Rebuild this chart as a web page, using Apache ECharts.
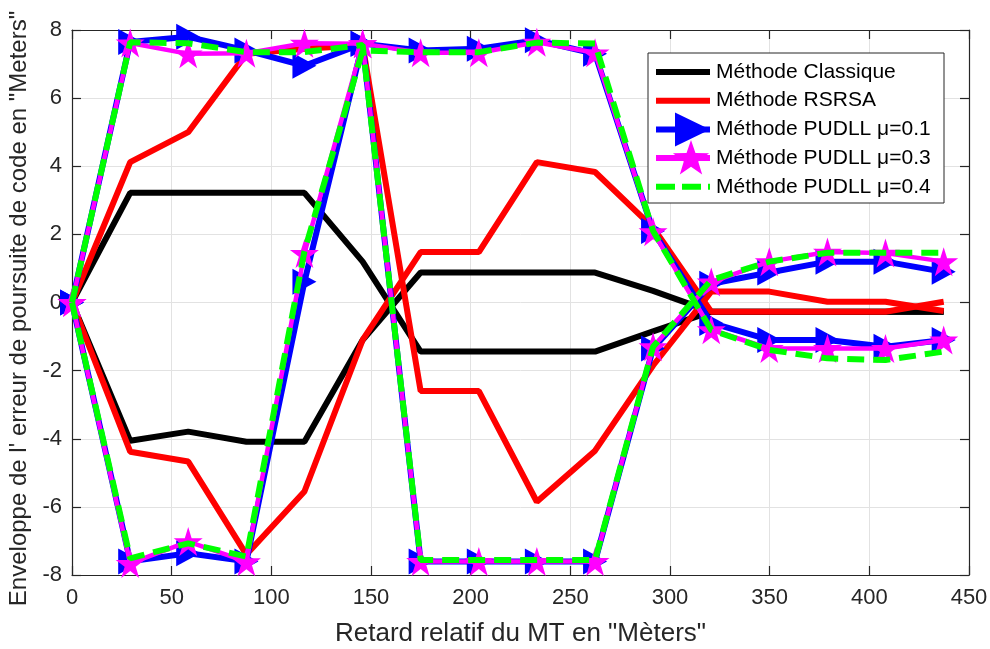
<!DOCTYPE html>
<html>
<head>
<meta charset="utf-8">
<script src="https://cdn.jsdelivr.net/npm/echarts@6/dist/echarts.min.js"></script>
<style>
html, body { margin: 0; padding: 0; background: #fff; }
#main { width: 990px; height: 649px; }
</style>
</head>
<body>
<div id="main"></div>
<script>
// abscisses : retard relatif (m)
var retard = [0, 29.2, 58.3, 87.5, 116.6, 145.8, 174.9, 204.1, 233.2, 262.4, 291.5, 320.7, 349.8, 379.0, 408.1, 437.3];

// chaque méthode = deux courbes d'enveloppe (A part vers le haut, B vers le bas)
var classiqueA = [0, 3.22, 3.22, 3.22, 3.22, 1.2, -1.44, -1.44, -1.44, -1.44, -0.85, -0.27, -0.27, -0.27, -0.27, -0.27];
var classiqueB = [0, -4.06, -3.79, -4.09, -4.09, -1.1, 0.88, 0.88, 0.88, 0.88, 0.34, -0.27, -0.27, -0.27, -0.27, -0.27];

var rsrsaA = [0, 4.12, 5.0, 7.3, 7.45, 7.55, -2.6, -2.6, -5.85, -4.35, -1.85, 0.32, 0.32, 0.02, 0.02, -0.25];
var rsrsaB = [0, -4.38, -4.67, -7.4, -5.55, -1.1, 1.48, 1.48, 4.12, 3.83, 2.2, -0.27, -0.27, -0.27, -0.27, 0.02];

var pudll1A = [0, 7.65, 7.8, 7.4, 6.95, 7.6, -7.6, -7.6, -7.6, -7.6, -1.35, 0.55, 0.88, 1.2, 1.2, 0.9];
var pudll1B = [0, -7.6, -7.36, -7.6, 0.61, 7.6, 7.4, 7.45, 7.7, 7.3, 2.1, -0.6, -1.1, -1.1, -1.3, -1.1];

var pudll3A = [0, 7.62, 7.3, 7.32, 7.61, 7.6, -7.6, -7.6, -7.6, -7.6, -1.3, 0.6, 1.2, 1.48, 1.45, 1.2];
var pudll3B = [0, -7.66, -7.02, -7.61, 1.44, 7.6, 7.33, 7.33, 7.64, 7.33, 2.08, -0.8, -1.35, -1.35, -1.35, -1.1];

var pudll4A = [0, 7.64, 7.61, 7.35, 7.35, 7.56, -7.56, -7.56, -7.56, -7.56, -1.3, 0.66, 1.2, 1.46, 1.46, 1.46];
var pudll4B = [0, -7.51, -7.07, -7.46, 1.5, 7.4, 7.35, 7.35, 7.63, 7.6, 2.1, -0.81, -1.39, -1.64, -1.69, -1.44];

var xTicks = { min: 0, max: 450, step: 50 };
var yTicks = { min: -8, max: 8, step: 2 };

var noms = ['Méthode Classique', 'Méthode RSRSA', 'Méthode PUDLL μ=0.1', 'Méthode PUDLL μ=0.3', 'Méthode PUDLL μ=0.4'];
var couleurs = ['#000000', '#ff0000', '#0000ff', '#ff00ff', '#00ff00'];

var police = 'Liberation Sans, Arial, Helvetica, sans-serif';
var etoile = 'path://M50,0 L61.2,34.5 L97.6,34.5 L68.2,55.9 L79.4,90.5 L50,69.1 L20.6,90.5 L31.8,55.9 L2.4,34.5 L38.8,34.5 Z';

function points(ys) {
	return retard.map(function (x, i) { return [x, ys[i]]; });
}

function courbe(idx, ys, largeur, extra) {
	var s = {
		name: noms[idx],
		type: 'line',
		data: points(ys),
		z: 2 + idx,
		symbol: 'none',
		animation: false,
		lineStyle: { color: couleurs[idx], width: largeur },
		itemStyle: { color: couleurs[idx] }
	};
	for (var k in extra) { s[k] = extra[k]; }
	return s;
}

var triangle = { symbol: 'triangle', symbolSize: [26, 24], symbolRotate: -90, showSymbol: true };
var etoiles = { symbol: etoile, symbolSize: 29, showSymbol: true };

var series = [
	courbe(0, classiqueA, 6, {}),
	courbe(0, classiqueB, 6, {}),
	courbe(1, rsrsaA, 6, {}),
	courbe(1, rsrsaB, 6, {}),
	courbe(2, pudll1A, 6, triangle),
	courbe(2, pudll1B, 6, triangle),
	courbe(3, pudll3A, 4.5, etoiles),
	courbe(3, pudll3B, 4.5, etoiles),
	courbe(4, pudll4A, 6, {}),
	courbe(4, pudll4B, 6, {})
];
series[8].lineStyle.type = [17, 9];
series[9].lineStyle.type = [17, 9];

function axe(pos, t, visible) {
	return {
		type: 'value',
		position: pos,
		min: t.min,
		max: t.max,
		interval: t.step,
		axisLine: { show: true, onZero: false, lineStyle: { color: '#262626', width: 1.2 } },
		axisTick: { show: true, inside: true, length: 9, lineStyle: { color: '#262626', width: 1.2 } },
		axisLabel: { show: visible, color: '#262626', fontSize: 22, fontFamily: police },
		splitLine: { show: visible, lineStyle: { color: '#e2e2e2', width: 1 } }
	};
}

var xBas = axe('bottom', xTicks, true);
xBas.axisLabel.margin = 12;
xBas.name = 'Retard relatif du MT en "Mèters"';
xBas.nameLocation = 'middle';
xBas.nameGap = 46;
xBas.nameTextStyle = { color: '#262626', fontSize: 26, fontFamily: police };

var yGauche = axe('left', yTicks, true);
yGauche.axisLabel.margin = 10;
yGauche.name = 'Enveloppe de l\' erreur de poursuite de code en "Meters"';
yGauche.nameLocation = 'middle';
yGauche.nameGap = 38;
yGauche.nameTextStyle = { color: '#262626', fontSize: 24, fontFamily: police, padding: [0, 12, 0, 0] };

// légende dessinée à la main (cadre, échantillons, textes)
function legende() {
	var g = [];
	var x0 = 648, y0 = 53, larg = 296, haut = 150, pas = 28.7, yc = 72;
	g.push({ type: 'rect', shape: { x: x0, y: y0, width: larg, height: haut },
		style: { fill: '#ffffff', stroke: '#262626', lineWidth: 1 }, z: 100 });
	for (var i = 0; i < noms.length; i++) {
		var y = yc + i * pas;
		var ligne = { type: 'line', shape: { x1: 656, y1: y, x2: 710, y2: y },
			style: { stroke: couleurs[i], lineWidth: 6 }, z: 101 };
		if (i == 4) { ligne.style.lineDash = [19, 7]; }
		g.push(ligne);
		if (i == 2) {
			g.push({ type: 'polygon', shape: { points: [[675, y - 17], [710, y], [675, y + 17]] },
				style: { fill: couleurs[i] }, z: 102 });
		}
		if (i == 3) {
			var pts = [];
			for (var k = 0; k < 10; k++) {
				var r = (k % 2 == 0) ? 19 : 7.6;
				var a = -Math.PI / 2 + k * Math.PI / 5;
				pts.push([691 + r * Math.cos(a), y + 1 + r * Math.sin(a)]);
			}
			g.push({ type: 'polygon', shape: { points: pts }, style: { fill: couleurs[i] }, z: 102 });
		}
		g.push({ type: 'text', x: 716, y: y, z: 103,
			style: { text: noms[i], fill: '#000000', font: '21px ' + police, verticalAlign: 'middle', align: 'left' } });
	}
	return g;
}

var option = {
	backgroundColor: '#ffffff',
	animation: false,
	grid: { left: 72, right: 21, top: 30, bottom: 74, containLabel: false, outerBoundsMode: 'none' },
	xAxis: [xBas, axe('top', xTicks, false)],
	yAxis: [yGauche, axe('right', yTicks, false)],
	graphic: legende(),
	series: series
};

var myChart = echarts.init(document.getElementById('main'), null, { renderer: 'canvas' });
myChart.setOption(option);
</script>
</body>
</html>
